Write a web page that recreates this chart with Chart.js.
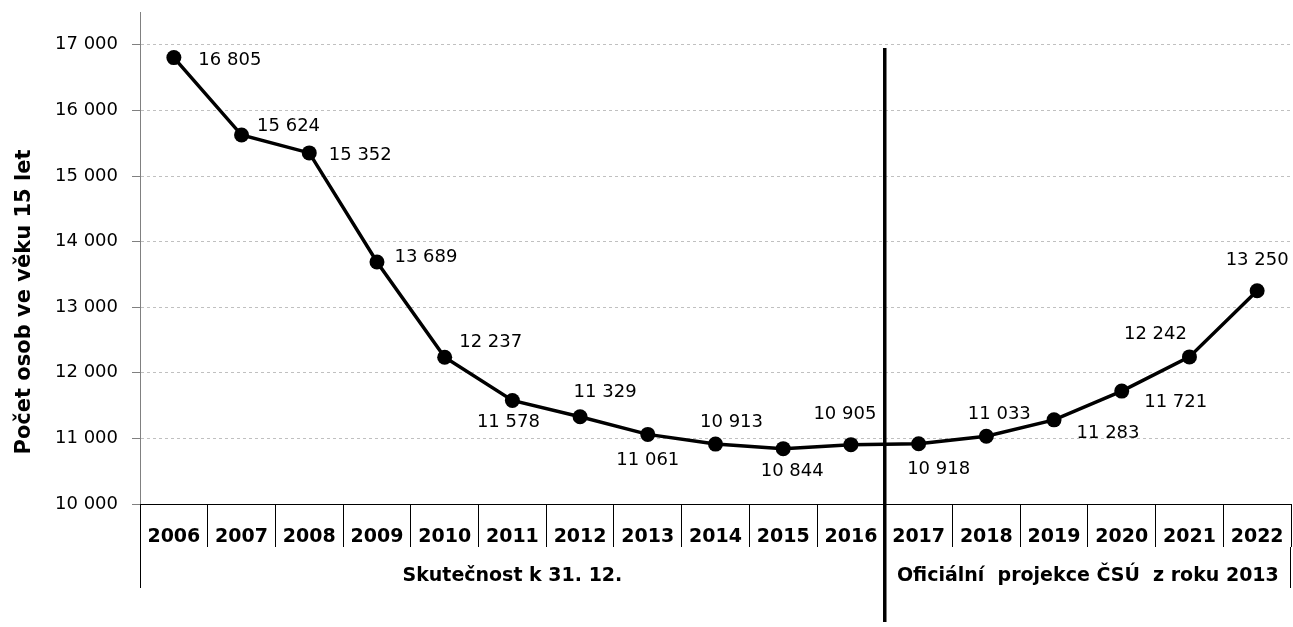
<!DOCTYPE html>
<html lang="cs">
<head>
  <meta charset="UTF-8" />
  <title>Počet osob ve věku 15 let</title>
  <script src="https://cdn.jsdelivr.net/npm/chart.js"></script>
  <style>
    html, body { margin: 0; padding: 0; background: #fff; }
    #wrap { width: 1293px; height: 627px; }
  </style>
</head>
<body>
  <div id="wrap"><canvas id="chart" width="1293" height="627"></canvas></div>

  <script>
    // data
    const years = ['2006', '2007', '2008', '2009', '2010', '2011', '2012', '2013', '2014',
                   '2015', '2016', '2017', '2018', '2019', '2020', '2021', '2022'];
    const persons = [16805, 15624, 15352, 13689, 12237, 11578, 11329, 11061, 10913,
                     10844, 10905, 10918, 11033, 11283, 11721, 12242, 13250];
    const yTicks = [10000, 11000, 12000, 13000, 14000, 15000, 16000, 17000];
    const groups = [
      { label: 'Skutečnost k 31. 12.', from: 0, to: 10 },
      { label: 'Oficiální  projekce ČSÚ  z roku 2013', from: 11, to: 16 }
    ];
    const yTitle = 'Počet osob ve věku 15 let';

    // label offsets from the point (center of text), px
    const labelOffsets = [
      [56, 3], [47, -9], [51, 2], [49, -5], [46, -15], [-4, 22], [25, -24], [0, 26], [16, -22],
      [9, 23], [-6, -30], [20, 26], [13, -22], [54, 13], [54, 11], [-34, -23], [0, -30]
    ];

    const fmt = v => String(v).replace(/\B(?=(\d{3})+(?!\d))/g, ' ');
    const FONT = '"DejaVu Sans", Verdana, sans-serif';

    const extras = {
      id: 'extras',
      afterDatasetsDraw(chart) {
        const ctx = chart.ctx;
        const x = chart.scales.x;
        const area = chart.chartArea;
        const meta = chart.getDatasetMeta(0);

        ctx.save();
        // value labels
        ctx.fillStyle = '#000';
        ctx.font = '18px ' + FONT;
        ctx.textAlign = 'center';
        ctx.textBaseline = 'middle';
        meta.data.forEach((pt, i) => {
          const off = labelOffsets[i];
          ctx.fillText(fmt(persons[i]), pt.x + off[0], pt.y + off[1]);
        });

        // axis extensions into the group row
        ctx.strokeStyle = '#000';
        ctx.lineWidth = 1;
        ctx.beginPath();
        ctx.moveTo(area.left + 0.5, area.bottom);
        ctx.lineTo(area.left + 0.5, 588);
        ctx.moveTo(area.right - 0.5, 547);
        ctx.lineTo(area.right - 0.5, 588);
        ctx.stroke();

        // group labels
        ctx.font = 'bold 19px ' + FONT;
        groups.forEach(g => {
          const half = (x.getPixelForValue(1) - x.getPixelForValue(0)) / 2;
          const l = x.getPixelForValue(g.from) - half;
          const r = x.getPixelForValue(g.to) + half;
          ctx.fillText(g.label, (l + r) / 2, 576);
        });

        // divider between actual data and projection
        const split = (x.getPixelForValue(10) + x.getPixelForValue(11)) / 2;
        ctx.lineWidth = 3.5;
        ctx.beginPath();
        ctx.moveTo(split, 48);
        ctx.lineTo(split, 622);
        ctx.stroke();

        // y title
        ctx.translate(25, 302);
        ctx.rotate(-Math.PI / 2);
        ctx.font = 'bold 21px ' + FONT;
        ctx.fillText(yTitle, 0, 0);
        ctx.restore();
      }
    };

    new Chart(document.getElementById('chart'), {
      type: 'line',
      data: {
        labels: years,
        datasets: [{
          data: persons,
          borderColor: '#000',
          borderWidth: 3.5,
          pointRadius: 7.5,
          pointHoverRadius: 7.5,
          pointBackgroundColor: '#000',
          pointBorderWidth: 0,
          tension: 0
        }]
      },
      options: {
        responsive: false,
        animation: false,
        layout: { autoPadding: false, padding: { top: 12, right: 2, left: 0, bottom: 0 } },
        plugins: { legend: { display: false }, tooltip: { enabled: false } },
        scales: {
          x: {
            offset: true,
            afterFit: s => { s.height = 123; s.paddingLeft = 0; s.paddingRight = 0; },
            grid: {
              offset: true,
              drawOnChartArea: false,
              tickLength: 43,
              tickColor: '#000',
              tickWidth: 1
            },
            border: { color: '#000', width: 1 },
            ticks: {
              color: '#000',
              padding: -21,
              maxRotation: 0,
              autoSkip: false,
              font: { family: FONT, size: 19, weight: 'bold' }
            }
          },
          y: {
            min: 10000,
            max: 17500,
            afterFit: s => { s.width = 140; s.paddingTop = 0; s.paddingBottom = 0; },
            afterBuildTicks: s => { s.ticks = yTicks.map(v => ({ value: v })); },
            grid: {
              color: '#c0c0c0',
              lineWidth: 1,
              tickLength: 8,
              tickColor: '#808080',
              tickBorderDash: [],
              tickWidth: 1
            },
            border: { color: '#808080', width: 1, dash: [3, 3] },
            ticks: {
              color: '#000',
              padding: 14,
              font: { family: FONT, size: 18 },
              callback: v => fmt(v)
            }
          }
        }
      },
      plugins: [extras]
    });
  </script>
</body>
</html>
